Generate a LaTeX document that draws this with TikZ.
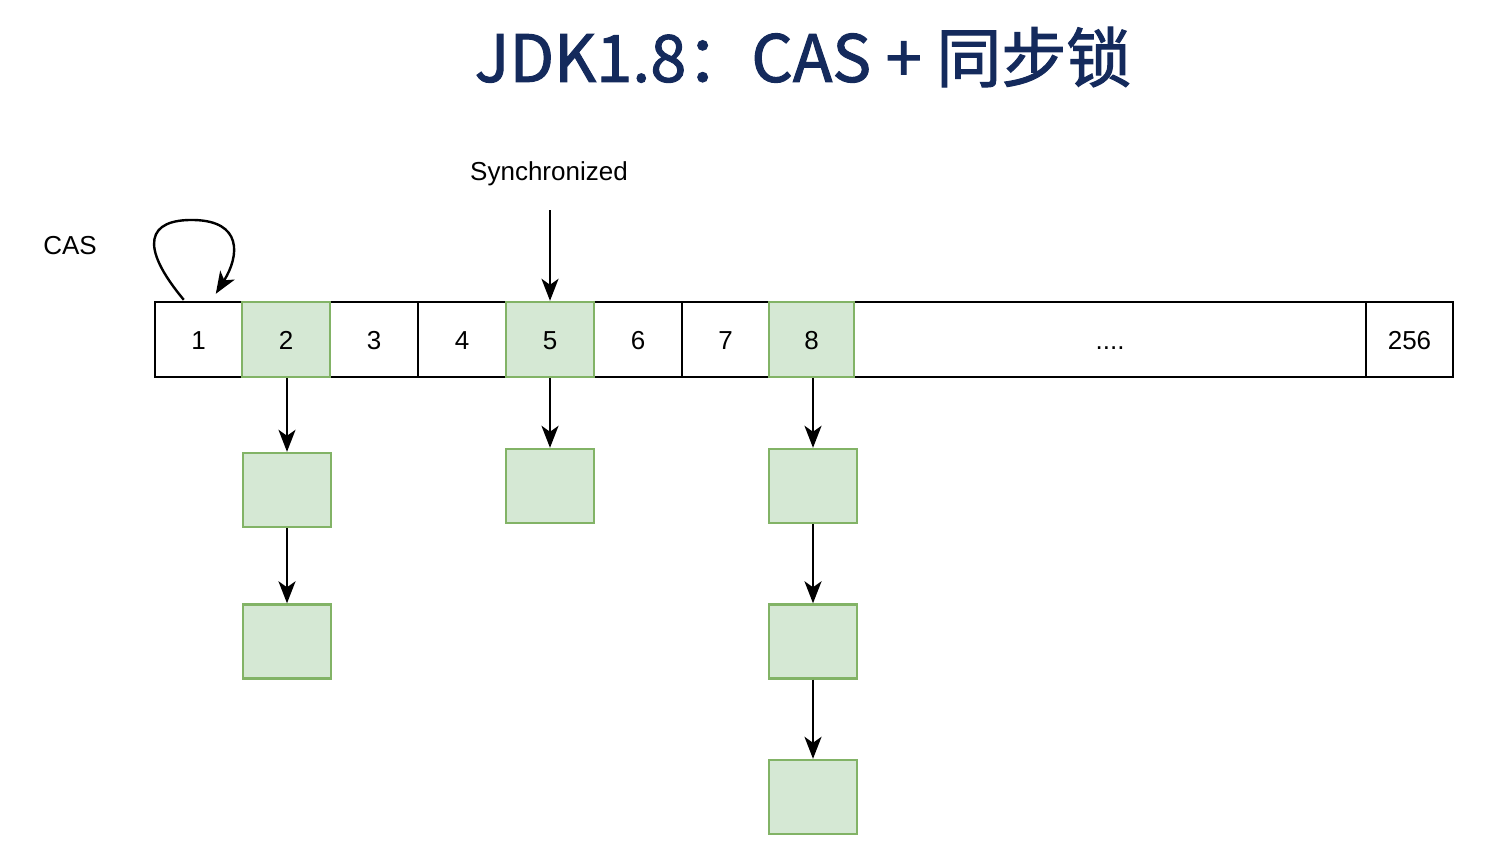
\documentclass[tikz,border=0pt]{standalone}
\usepackage{fontspec}
\setmainfont{Liberation Sans}
\newfontfamily\cjk[FakeBold=1.6]{Noto Sans CJK SC}
\usetikzlibrary{arrows.meta,calc}
\definecolor{gfill}{HTML}{D5E8D4}
\definecolor{gline}{HTML}{82B366}
\definecolor{navy}{HTML}{142A5C}
\begin{document}
\begin{tikzpicture}[x=1pt,y=-1pt,
  cellbase/.style={line width=2.4pt,inner sep=0pt,minimum height=75pt,text height=19pt,text depth=0pt,font=\fontsize{26}{30}\selectfont},
  cell/.style={cellbase,draw=black,fill=white},
  gcell/.style={cellbase,draw=gline,fill=gfill},
  gbox/.style={draw=gline,fill=gfill,line width=2.4pt,inner sep=0pt,minimum width=88pt,minimum height=74pt},
  arr/.style={line width=2.4pt,-{Stealth[length=22pt,width=17pt,inset=6pt]}},
  lbl/.style={font=\fontsize{26}{30}\selectfont,inner sep=0pt}]
\useasboundingbox (0,0) rectangle (1495,860);
\fill[white] (0,0) rectangle (1495,860);
% title
\node[inner sep=0pt,text=navy,font=\cjk\fontsize{65}{70}\selectfont] (title) at (803,57) {JDK1.8：CAS + 同步锁};
% cells
\node[cell,minimum width=87pt] (c1) at (198.5,339.5) {1};
\node[cell,minimum width=88pt] (c3) at (374,339.5) {3};
\node[cell,minimum width=88pt] (c4) at (462,339.5) {4};
\node[cell,minimum width=88pt] (c6) at (638,339.5) {6};
\node[cell,minimum width=87pt] (c7) at (725.5,339.5) {7};
\node[cell,minimum width=512pt] (cd) at (1110,339.5) {....};
\node[cell,minimum width=87pt] (c256) at (1409.5,339.5) {256};
\node[gcell,minimum width=88pt] (c2) at (286,339.5) {2};
\node[gcell,minimum width=88pt] (c5) at (550,339.5) {5};
\node[gcell,minimum width=85pt] (c8) at (811.5,339.5) {8};
% hanging boxes
\node[gbox] (b21) at (287,490) {};
\node[gbox] (b22) at (287,641.5) {};
\node[gbox] (b51) at (550,486) {};
\node[gbox] (b81) at (813,486) {};
\node[gbox] (b82) at (813,641.5) {};
\node[gbox] (b83) at (813,797) {};
% labels
\node[lbl] (cas) at (70,246) {CAS};
\node[lbl] (sync) at (549,174) {Synchronized};
\coordinate (syncstart) at (550,210);
% arrows
\draw[arr] (syncstart) -- (c5.north);
\draw[arr] (b21.north |- c2.south) -- (b21.north);
\draw[arr] (b21.south) -- (b22.north);
\draw[arr] (c5.south) -- (b51.north);
\draw[arr] (b81.north |- c8.south) -- (b81.north);
\draw[arr] (b81.south) -- (b82.north);
\draw[arr] (b82.south) -- (b83.north);
% CAS self loop
\coordinate (lpA) at ($(c1.north west)+(30,-1)$);
\coordinate (lpB) at ($(c1.north west)+(62,-7)$);
\draw[arr] (lpA) .. controls (138,245) and (148,219) .. (194,220)
  .. controls (242,221) and (240,255) .. (lpB);
\end{tikzpicture}
\end{document}
